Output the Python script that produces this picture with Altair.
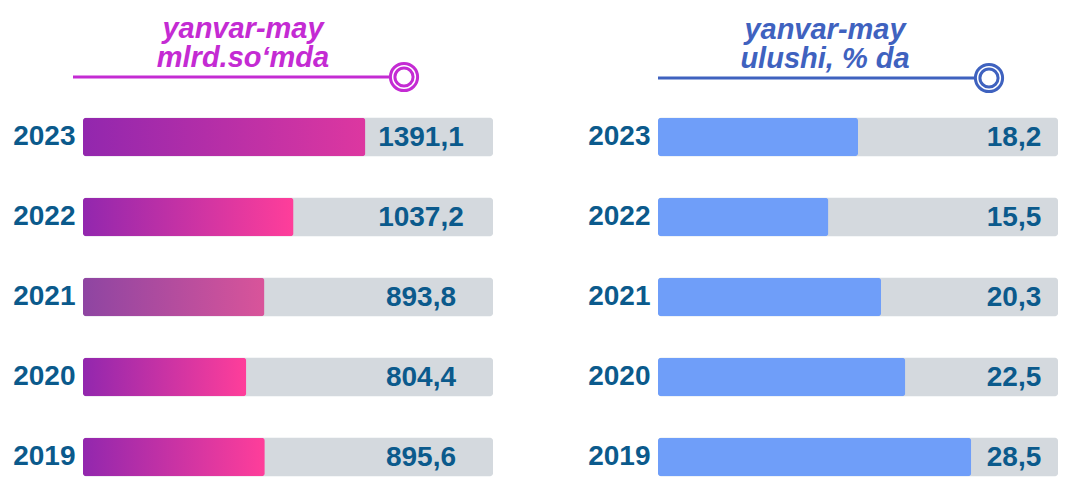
import altair as alt
import pandas as pd

years = ["2023", "2022", "2021", "2020", "2019"]
volume_mlrd = [1391.1, 1037.2, 893.8, 804.4, 895.6]
share_pct = [18.2, 15.5, 20.3, 22.5, 28.5]

title_left = ["yanvar-may", "mlrd.so‘mda"]
title_right = ["yanvar-may", "ulushi, % da"]

FONT = "Liberation Sans, Arial, sans-serif"
DARK = "#0B5A8C"
MAG = "#C42BD3"
BLUE_T = "#3F62BF"
BG = "#D4D9DE"
BLUE_BAR = "#6F9EF9"


def grad(c0, c1):
    return {
        "gradient": "linear", "x1": 0, "x2": 1, "y1": 0, "y2": 0,
        "stops": [{"offset": 0, "color": c0}, {"offset": 1, "color": c1}],
    }


G_MAIN = grad("#9227AE", "#FF3E9A")
G_2023 = grad("#9227AE", "#DD37A0")
G_2021 = grad("#8E45A2", "#D9549A")

df_left = pd.DataFrame({"year": years, "v": volume_mlrd})
df_right = pd.DataFrame({"year": years, "v": share_pct})
one = alt.Data(values=[{"k": 1}])

Y_SCALE = alt.Scale(paddingInner=0.52, paddingOuter=0.26)
Y_AXIS = alt.Axis(
    title=None, domain=False, ticks=False, grid=False,
    labelFont=FONT, labelFontSize=28, labelFontWeight="bold",
    labelColor=DARK, labelPadding=8,
)


def panel(df, domain_max, text_pos, bar_fill, title_text, title_color, title_dx,
          rule_x2, circ_x, deco_y, width):
    base = alt.Chart(df).transform_calculate(
        lab="replace(format(datum.v, '.1f'), '.', ',')"
    ).encode(y=alt.Y("year:N", sort=years, scale=Y_SCALE, axis=Y_AXIS))

    xs = alt.Scale(domain=[0, domain_max], nice=False, zero=True)

    bg = base.mark_bar(color=BG, cornerRadius=3).encode(
        x=alt.value(0), x2=alt.value("width")
    )
    bars = base.mark_bar(cornerRadius=3).encode(
        x=alt.X("v:Q", scale=xs, axis=None),
        fill=bar_fill,
    )
    txt = base.mark_text(
        font=FONT, fontSize=28, fontWeight="bold", color=DARK,
        align="center", baseline="middle", dy=1,
    ).encode(x=alt.X(datum=text_pos, scale=xs), text="lab:N")

    rule = alt.Chart(one).mark_rule(color=title_color, strokeWidth=3).encode(
        x=alt.value(rule_x2[0]), x2=alt.value(rule_x2[1]), y=alt.value(deco_y)
    )
    c_out = alt.Chart(one).mark_point(
        shape="circle", filled=False, color=title_color, strokeWidth=3,
        size=740, opacity=1,
    ).encode(x=alt.value(circ_x), y=alt.value(deco_y))
    c_in = alt.Chart(one).mark_point(
        shape="circle", filled=False, color=title_color, strokeWidth=3,
        size=330, opacity=1,
    ).encode(x=alt.value(circ_x), y=alt.value(deco_y))

    return alt.layer(bg, bars, txt, rule, c_out, c_in).properties(
        width=width,
        height=400,
        title=alt.TitleParams(
            text=title_text, font=FONT, fontSize=29, fontStyle="italic",
            fontWeight="bold", color=title_color, lineHeight=29,
            anchor="middle", frame="group", dx=title_dx, offset=-16,
        ),
    )


left_fill = (
    alt.when(alt.datum.year == "2023").then(alt.value(G_2023))
    .when(alt.datum.year == "2021").then(alt.value(G_2021))
    .otherwise(alt.value(G_MAIN))
)

left = panel(df_left, 2020, 1665, left_fill, title_left, MAG, -45,
             (-10, 306), 321, -20, 410)
right = panel(df_right, 36.4, 32.4, alt.value(BLUE_BAR), title_right, BLUE_T, -33,
              (0, 318), 331, -19, 400)

chart = alt.hconcat(left, right, spacing=94).properties(
    padding={"left": 4, "top": 7, "right": 0, "bottom": 0}
).configure_view(stroke=None).configure_axisX(disable=True)

chart.save("out.html", embed_options={"renderer": "svg", "actions": False})
